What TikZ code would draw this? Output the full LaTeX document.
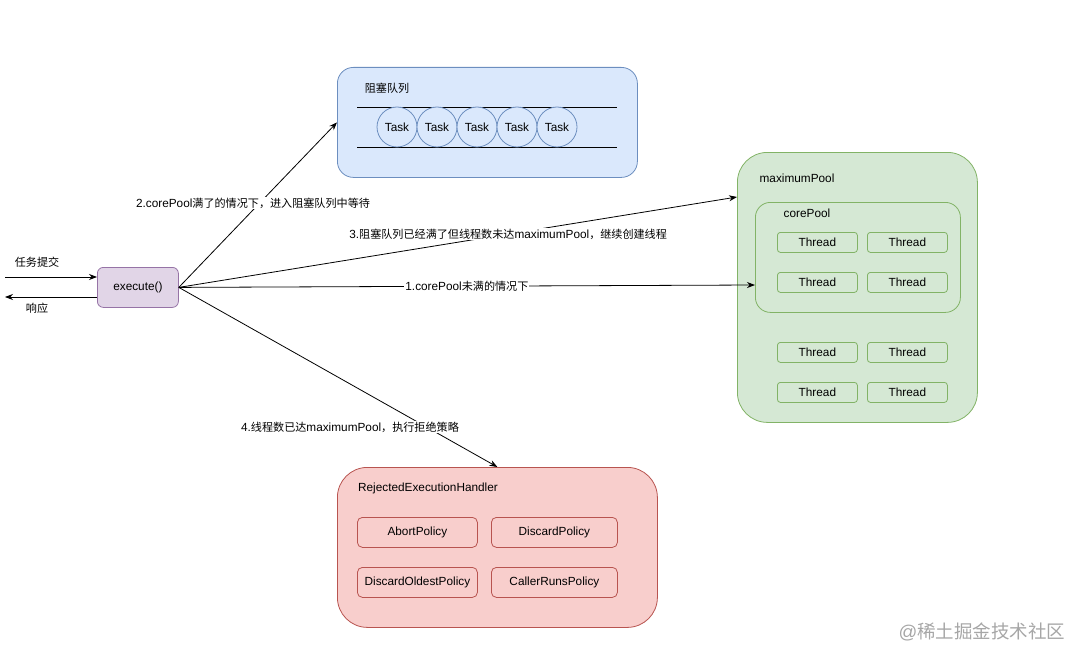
\documentclass[tikz,border=0pt]{standalone}
\usepackage{fontspec}
\setmainfont{Liberation Sans}
\newfontfamily\cjk[Scale=0.94]{Noto Sans CJK SC}
\newfontfamily\cjkwm{Noto Sans CJK SC}
\usetikzlibrary{arrows.meta}
\tikzset{
  base/.style={font=\fontsize{11.8}{13}\selectfont},
  box/.style={base, draw, line width=0.8pt, rounded corners=#1, inner sep=0pt, anchor=north west},
  queuebox/.style={box=16pt, fill=blueF, draw=blueD},
  poolbox/.style={box=30pt, fill=greenF, draw=greenD},
  corebox/.style={box=15pt, fill=greenF, draw=greenD},
  threadbox/.style={box=3pt, fill=greenF, draw=greenD, minimum width=80pt, minimum height=20pt},
  rejbox/.style={box=30pt, fill=redF, draw=redD},
  policybox/.style={box=5pt, fill=redF, draw=redD, minimum height=30pt},
  execbox/.style={box=6pt, fill=purpF, draw=purpD, minimum width=81pt, minimum height=40pt},
  taskc/.style={base, circle, draw=blueD, line width=0.8pt, fill=blueF, minimum size=40pt, inner sep=0pt},
  txt/.style={base, inner sep=1pt},
  elabel/.style={base, fill=white, inner sep=1pt},
  arr/.style={-{Stealth[length=8pt,width=6pt]}, line width=0.8pt},
}
\definecolor{blueF}{HTML}{DAE8FC}
\definecolor{blueD}{HTML}{6C8EBF}
\definecolor{greenF}{HTML}{D5E8D4}
\definecolor{greenD}{HTML}{82B366}
\definecolor{redF}{HTML}{F8CECC}
\definecolor{redD}{HTML}{B85450}
\definecolor{purpF}{HTML}{E1D5E7}
\definecolor{purpD}{HTML}{9673A6}
\begin{document}
\begin{tikzpicture}[x=1pt,y=-1pt]
\useasboundingbox (0,0) rectangle (1082,661);

% execute
\node[execbox] (exec) at (97,267) {};
\node[txt] at (exec.center) {execute()};
\coordinate (inS) at (5,277);
\coordinate (inE) at (97,277);
\coordinate (outS) at (97,297);
\coordinate (outE) at (5,297);
\draw[arr] (inS) -- (inE);
\draw[arr] (outS) -- (outE);
\node[txt] (submit) at (37,262) {\cjk 任务提交};
\node[txt] (resp) at (37,308) {\cjk 响应};

% blocking queue
\node[queuebox, minimum width=300pt, minimum height=110pt] (queue) at (337,67) {};
\node[txt] (qlabel) at (387,88) {\cjk 阻塞队列};
\coordinate (l1a) at (357,107);
\coordinate (l1b) at (617,107);
\coordinate (l2a) at (357,147);
\coordinate (l2b) at (617,147);
\draw[line width=0.8pt] (l1a) -- (l1b);
\draw[line width=0.8pt] (l2a) -- (l2b);
\foreach \i/\x in {1/397,2/437,3/477,4/517,5/557}{
  \node[taskc] (task\i) at (\x,127) {Task};
}

% maximum pool
\node[poolbox, minimum width=240pt, minimum height=270pt] (maxpool) at (737,152) {};
\node[txt] (mplabel) at (797,178) {maximumPool};
\node[corebox, minimum width=205pt, minimum height=110pt] (corepool) at (755,202) {};
\node[txt] (cplabel) at (807,213) {corePool};
\node[threadbox] (t1) at (777,232) {Thread};
\node[threadbox] (t2) at (867,232) {Thread};
\node[threadbox] (t3) at (777,272) {Thread};
\node[threadbox] (t4) at (867,272) {Thread};
\node[threadbox] (t5) at (777,342) {Thread};
\node[threadbox] (t6) at (867,342) {Thread};
\node[threadbox] (t7) at (777,382) {Thread};
\node[threadbox] (t8) at (867,382) {Thread};

% rejected handler
\node[rejbox, minimum width=320pt, minimum height=160pt] (rej) at (337,467) {};
\node[txt] (rjlabel) at (428,488) {RejectedExecutionHandler};
\node[policybox, minimum width=120pt] (p1) at (357,517) {AbortPolicy};
\node[policybox, minimum width=126pt] (p2) at (491,517) {DiscardPolicy};
\node[policybox, minimum width=120pt] (p3) at (357,567) {DiscardOldestPolicy};
\node[policybox, minimum width=126pt] (p4) at (491,567) {CallerRunsPolicy};

% connectors
\coordinate (mpIn) at (737,197);
\coordinate (cpIn) at (755,285);
\draw[arr] (exec.east) -- (queue.west);
\node[elabel] (l2) at (253,203) {2.corePool\cjk 满了的情况下，进入阻塞队列中等待};
\draw[arr] (exec.east) -- node[elabel, pos=0.59] {3.{\cjk 阻塞队列已经满了但线程数未达}maximumPool{\cjk ，继续创建线程}} (mpIn);
\draw[arr] (exec.east) -- node[elabel, pos=0.5] {1.corePool\cjk 未满的情况下} (cpIn);
\draw[arr] (exec.east) -- (rej.north);
\node[elabel] (l4) at (350,427) {4.{\cjk 线程数已达}maximumPool{\cjk ，执行拒绝策略}};

% watermark
\node[font=\fontsize{18.5}{20}\selectfont, text=black!35, inner sep=0pt] (wm) at (982,632) {@\cjkwm 稀土掘金技术社区};
\end{tikzpicture}
\end{document}
